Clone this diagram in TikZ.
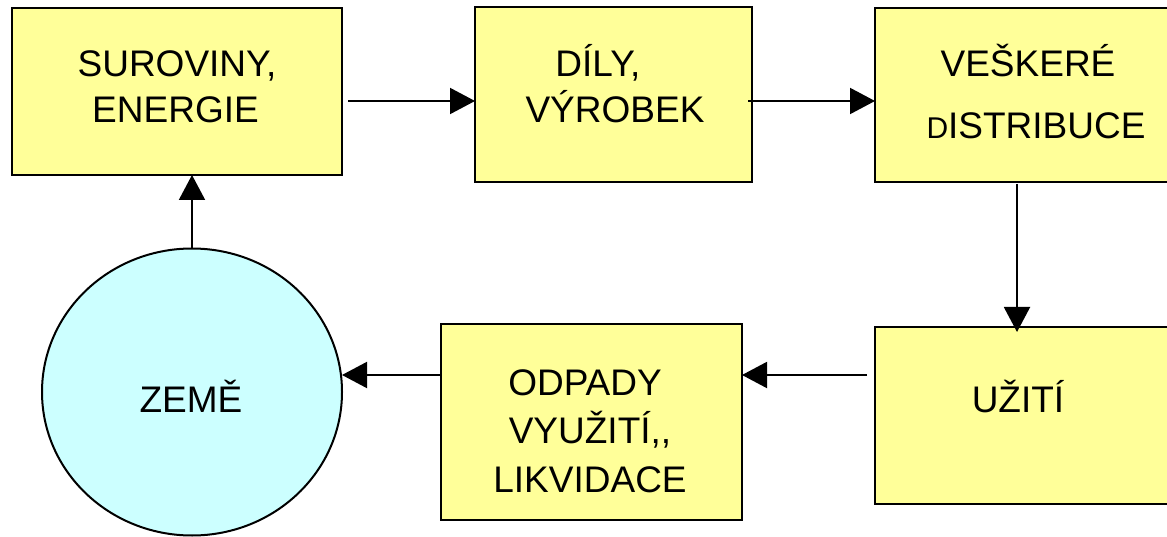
\documentclass[tikz,border=0pt]{standalone}
\usepackage{fontspec}
\setmainfont{Liberation Sans}
\usetikzlibrary{arrows.meta}
\definecolor{boxyellow}{HTML}{FFFF99}
\definecolor{earthcyan}{HTML}{CCFFFF}
\tikzset{
  stagebox/.style={draw=black, line width=2.6pt, fill=boxyellow, rectangle, inner sep=0pt, outer sep=0pt},
  earthnode/.style={draw=black, line width=2pt, fill=earthcyan, ellipse, inner sep=0pt, outer sep=0pt},
  lbl/.style={anchor=base, inner sep=0pt, font=\fontsize{37pt}{44pt}\selectfont},
  arr/.style={line width=2pt, -{Triangle[length=25pt,width=26pt]}}
}
\usetikzlibrary{shapes.geometric}
\begin{document}
\begin{tikzpicture}[x=1pt,y=-1pt]
\useasboundingbox (0,0) rectangle (1167,537);
\fill[white] (0,0) rectangle (1167,537);
% boxes
\node[stagebox, minimum width=330pt, minimum height=167pt] (b1) at (177,91.5) {};
\node[stagebox, minimum width=277pt, minimum height=175pt] (b2) at (613.5,94.5) {};
\node[stagebox, minimum width=305pt, minimum height=174pt] (b3) at (1027.5,95) {};
\node[stagebox, minimum width=305pt, minimum height=177pt] (b4) at (1027.5,415.5) {};
\node[stagebox, minimum width=301pt, minimum height=196pt] (b5) at (591.5,422) {};
\node[earthnode, minimum width=300pt, minimum height=287pt] (c) at (192,392) {};
% labels
\node[lbl] (t1a) at (177,77) {SUROVINY,};
\node[lbl] (t1b) at (175.5,123) {ENERGIE};
\node[lbl] (t2a) at (598,77) {DÍLY,};
\node[lbl] (t2b) at (615,123) {VÝROBEK};
\node[lbl] (t3a) at (1028,77) {VEŠKERÉ};
\node[lbl] (t3b) at (1036,139) {{\fontsize{30pt}{32pt}\selectfont D}ISTRIBUCE};
\node[lbl] (t4) at (1018,412) {UŽITÍ};
\node[lbl] (t5a) at (585,395) {ODPADY};
\node[lbl] (t5b) at (590,443) {VYUŽITÍ{,}{,}};
\node[lbl] (t5c) at (590,492) {LIKVIDACE};
\node[lbl] (tc) at (191,412) {ZEMĚ};
% connectors
\draw[arr, shorten <=6pt] (b1.east |- 0,101) -- (b2.west |- 0,101);
\draw[arr, shorten <=-4pt] (b2.east |- 0,101) -- (b3.west |- 0,101);
\draw[arr, shorten <=2pt, shorten >=-5pt] (b3.south -| 1017,0) -- (b4.north -| 1017,0);
\draw[arr, shorten <=8pt] (b4.west |- 0,375) -- (b5.east |- 0,375);
\draw[arr] (b5.west |- 0,375) -- (c.east |- 0,375);
\draw[arr] (c.north) -- (c.north |- b1.south);
\end{tikzpicture}
\end{document}
